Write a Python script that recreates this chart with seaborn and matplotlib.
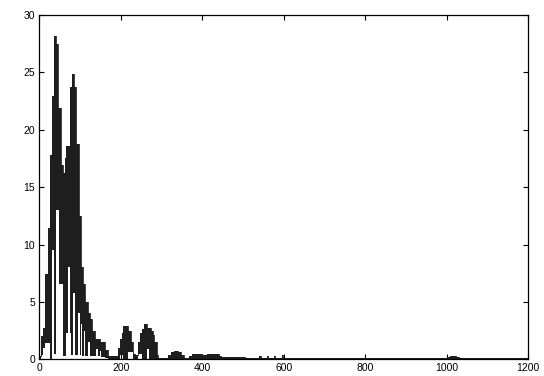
import matplotlib
matplotlib.use("Agg")
import matplotlib.pyplot as plt
import numpy as np
import pandas as pd
import seaborn as sns

# step edges (x) with the upper envelope and the lower (white gap) envelope
x_edges = [0, 3, 8, 14, 20, 26, 30, 31, 35, 36, 41, 46, 47, 52, 57, 58, 62, 66,
           71, 75, 78, 80, 82, 84, 86, 90, 94, 97, 100, 102, 105, 107, 110, 113,
           118, 120, 124, 128, 136, 140, 143, 149, 152, 161, 169, 194, 198, 202,
           205, 212, 218, 224, 230, 234, 243, 248, 252, 257, 265, 270, 273, 278,
           282, 288, 292, 316, 322, 330, 340, 348, 355, 368, 375, 398, 412, 440,
           447, 505, 540, 543, 559, 562, 576, 579, 596, 599, 1002, 1008, 1024,
           1030, 1200]
upper = [0.3, 2.0, 2.7, 7.4, 11.4, 17.8, 17.8, 22.9, 22.9, 28.2, 27.5, 21.9,
         21.9, 16.9, 16.2, 16.2, 17.5, 18.6, 18.6, 23.7, 23.7, 24.9, 24.9, 23.7,
         23.7, 18.75, 18.75, 12.5, 12.5, 8.0, 8.0, 6.6, 6.6, 5.0, 4.0, 4.0, 3.5,
         2.5, 1.8, 1.8, 1.8, 1.5, 1.5, 0.8, 0.3, 1.0, 1.8, 2.3, 2.9, 2.9, 2.5,
         1.5, 0.5, 0.4, 1.5, 2.3, 2.6, 3.1, 2.7, 2.7, 2.5, 2.1, 1.5, 0.4, 0.12,
         0.4, 0.6, 0.75, 0.6, 0.35, 0.15, 0.3, 0.46, 0.38, 0.46, 0.3, 0.18, 0.08,
         0.3, 0.08, 0.3, 0.08, 0.3, 0.08, 0.35, 0.08, 0.2, 0.3, 0.2, 0.08, 0.08]
lower = [0, 0.4, 1.0, 1.4, 1.4, 0, 9.5, 9.5, 0.5, 0.5, 13.0, 13.0, 6.6, 6.6,
         6.6, 0.3, 0.3, 2.3, 8.0, 2.3, 0.4, 0.4, 5.8, 5.8, 0.4, 0.4, 4.0, 4.0,
         0.4, 3.1, 0.3, 0.3, 2.5, 0.3, 0.3, 1.5, 0.3, 0.3, 0.3, 0.9, 0.3, 0.7,
         0.2, 0.1, 0, 0, 0.4, 0.4, 0, 0, 0.66, 0.66, 0, 0, 0.5, 0.5, 0, 0, 0.9,
         0, 0, 0, 0, 0, 0, 0, 0, 0, 0, 0, 0, 0, 0, 0, 0, 0, 0, 0, 0, 0, 0, 0, 0,
         0, 0, 0, 0, 0, 0, 0, 0]

x_ticks = [0, 200, 400, 600, 800, 1000, 1200]
y_ticks = [0, 5, 10, 15, 20, 25, 30]

df = pd.DataFrame({"x": x_edges, "upper": upper, "lower": lower})

sns.set_style("ticks")
plt.rcParams["font.family"] = ["Liberation Sans", "DejaVu Sans"]

fig = plt.figure(figsize=(5.44, 3.76), dpi=100)
ax = fig.add_axes([0.0726, 0.0444, 0.8980, 0.9157])

ax.fill_between(df.x, df.lower, df.upper, step="post", color="#1e1e1e",
                linewidth=0)
sns.lineplot(data=df, x="x", y="upper", drawstyle="steps-post", color="#1e1e1e",
             linewidth=0.6, ax=ax)

ax.set_xlim(0, 1200)
ax.set_ylim(0, 30)
ax.set_xticks(x_ticks)
ax.set_yticks(y_ticks)
ax.set_xlabel("")
ax.set_ylabel("")
ax.tick_params(direction="in", top=True, right=True, length=3.5, width=0.8,
               labelsize=7.5, pad=3, colors="black")
for s in ax.spines.values():
    s.set_visible(True)
    s.set_linewidth(0.9)
    s.set_color("black")

fig.savefig("out.png", dpi=100)
